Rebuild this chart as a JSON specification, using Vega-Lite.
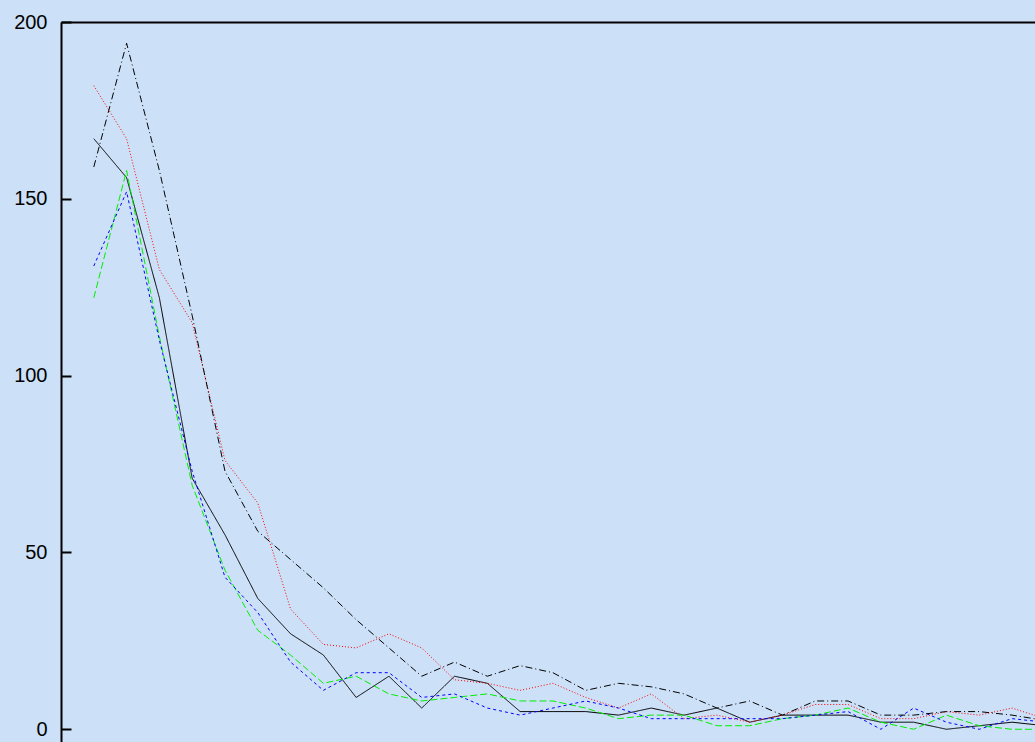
{
  "$schema": "https://vega.github.io/schema/vega-lite/v6.json",
  "autosize": "none",
  "padding": {"left": 61, "top": 22, "right": 0, "bottom": 0},
  "width": 974,
  "height": 720,
  "background": "#cce0f8",
  "config": {"view": {"stroke": null}},
  "data": {
    "values": [
      {"x": 1, "run": "run1", "v": 167}, {"x": 2, "run": "run1", "v": 156}, {"x": 3, "run": "run1", "v": 122}, {"x": 4, "run": "run1", "v": 71}, {"x": 5, "run": "run1", "v": 55},
      {"x": 6, "run": "run1", "v": 37}, {"x": 7, "run": "run1", "v": 27}, {"x": 8, "run": "run1", "v": 21}, {"x": 9, "run": "run1", "v": 9}, {"x": 10, "run": "run1", "v": 15},
      {"x": 11, "run": "run1", "v": 6}, {"x": 12, "run": "run1", "v": 15}, {"x": 13, "run": "run1", "v": 13}, {"x": 14, "run": "run1", "v": 5}, {"x": 15, "run": "run1", "v": 5},
      {"x": 16, "run": "run1", "v": 5}, {"x": 17, "run": "run1", "v": 4}, {"x": 18, "run": "run1", "v": 6}, {"x": 19, "run": "run1", "v": 4}, {"x": 20, "run": "run1", "v": 6},
      {"x": 21, "run": "run1", "v": 2}, {"x": 22, "run": "run1", "v": 4}, {"x": 23, "run": "run1", "v": 4}, {"x": 24, "run": "run1", "v": 4}, {"x": 25, "run": "run1", "v": 2},
      {"x": 26, "run": "run1", "v": 2}, {"x": 27, "run": "run1", "v": 0}, {"x": 28, "run": "run1", "v": 1}, {"x": 29, "run": "run1", "v": 2}, {"x": 30, "run": "run1", "v": 1},

      {"x": 1, "run": "run2", "v": 182}, {"x": 2, "run": "run2", "v": 167}, {"x": 3, "run": "run2", "v": 130}, {"x": 4, "run": "run2", "v": 115}, {"x": 5, "run": "run2", "v": 76},
      {"x": 6, "run": "run2", "v": 64}, {"x": 7, "run": "run2", "v": 34}, {"x": 8, "run": "run2", "v": 24}, {"x": 9, "run": "run2", "v": 23}, {"x": 10, "run": "run2", "v": 27},
      {"x": 11, "run": "run2", "v": 23}, {"x": 12, "run": "run2", "v": 14}, {"x": 13, "run": "run2", "v": 13}, {"x": 14, "run": "run2", "v": 11}, {"x": 15, "run": "run2", "v": 13},
      {"x": 16, "run": "run2", "v": 9}, {"x": 17, "run": "run2", "v": 6}, {"x": 18, "run": "run2", "v": 10}, {"x": 19, "run": "run2", "v": 3}, {"x": 20, "run": "run2", "v": 4},
      {"x": 21, "run": "run2", "v": 2}, {"x": 22, "run": "run2", "v": 4}, {"x": 23, "run": "run2", "v": 7}, {"x": 24, "run": "run2", "v": 7}, {"x": 25, "run": "run2", "v": 3},
      {"x": 26, "run": "run2", "v": 3}, {"x": 27, "run": "run2", "v": 5}, {"x": 28, "run": "run2", "v": 4}, {"x": 29, "run": "run2", "v": 6}, {"x": 30, "run": "run2", "v": 3},

      {"x": 1, "run": "run3", "v": 122}, {"x": 2, "run": "run3", "v": 158}, {"x": 3, "run": "run3", "v": 111}, {"x": 4, "run": "run3", "v": 69}, {"x": 5, "run": "run3", "v": 45},
      {"x": 6, "run": "run3", "v": 28}, {"x": 7, "run": "run3", "v": 21}, {"x": 8, "run": "run3", "v": 13}, {"x": 9, "run": "run3", "v": 15}, {"x": 10, "run": "run3", "v": 10},
      {"x": 11, "run": "run3", "v": 8}, {"x": 12, "run": "run3", "v": 9}, {"x": 13, "run": "run3", "v": 10}, {"x": 14, "run": "run3", "v": 8}, {"x": 15, "run": "run3", "v": 8},
      {"x": 16, "run": "run3", "v": 6}, {"x": 17, "run": "run3", "v": 3}, {"x": 18, "run": "run3", "v": 4}, {"x": 19, "run": "run3", "v": 4}, {"x": 20, "run": "run3", "v": 1},
      {"x": 21, "run": "run3", "v": 1}, {"x": 22, "run": "run3", "v": 3}, {"x": 23, "run": "run3", "v": 4}, {"x": 24, "run": "run3", "v": 6}, {"x": 25, "run": "run3", "v": 2},
      {"x": 26, "run": "run3", "v": 0}, {"x": 27, "run": "run3", "v": 4}, {"x": 28, "run": "run3", "v": 1}, {"x": 29, "run": "run3", "v": 0}, {"x": 30, "run": "run3", "v": 0},

      {"x": 1, "run": "run4", "v": 131}, {"x": 2, "run": "run4", "v": 152}, {"x": 3, "run": "run4", "v": 110}, {"x": 4, "run": "run4", "v": 73}, {"x": 5, "run": "run4", "v": 43},
      {"x": 6, "run": "run4", "v": 33}, {"x": 7, "run": "run4", "v": 19}, {"x": 8, "run": "run4", "v": 11}, {"x": 9, "run": "run4", "v": 16}, {"x": 10, "run": "run4", "v": 16},
      {"x": 11, "run": "run4", "v": 9}, {"x": 12, "run": "run4", "v": 10}, {"x": 13, "run": "run4", "v": 6}, {"x": 14, "run": "run4", "v": 4}, {"x": 15, "run": "run4", "v": 6},
      {"x": 16, "run": "run4", "v": 8}, {"x": 17, "run": "run4", "v": 6}, {"x": 18, "run": "run4", "v": 3}, {"x": 19, "run": "run4", "v": 3}, {"x": 20, "run": "run4", "v": 3},
      {"x": 21, "run": "run4", "v": 3}, {"x": 22, "run": "run4", "v": 3}, {"x": 23, "run": "run4", "v": 4}, {"x": 24, "run": "run4", "v": 5}, {"x": 25, "run": "run4", "v": 0},
      {"x": 26, "run": "run4", "v": 6}, {"x": 27, "run": "run4", "v": 2}, {"x": 28, "run": "run4", "v": 0}, {"x": 29, "run": "run4", "v": 3}, {"x": 30, "run": "run4", "v": 2},

      {"x": 1, "run": "run5", "v": 159}, {"x": 2, "run": "run5", "v": 194}, {"x": 3, "run": "run5", "v": 158}, {"x": 4, "run": "run5", "v": 117}, {"x": 5, "run": "run5", "v": 73},
      {"x": 6, "run": "run5", "v": 56}, {"x": 7, "run": "run5", "v": 48}, {"x": 8, "run": "run5", "v": 40}, {"x": 9, "run": "run5", "v": 31}, {"x": 10, "run": "run5", "v": 23},
      {"x": 11, "run": "run5", "v": 15}, {"x": 12, "run": "run5", "v": 19}, {"x": 13, "run": "run5", "v": 15}, {"x": 14, "run": "run5", "v": 18}, {"x": 15, "run": "run5", "v": 16},
      {"x": 16, "run": "run5", "v": 11}, {"x": 17, "run": "run5", "v": 13}, {"x": 18, "run": "run5", "v": 12}, {"x": 19, "run": "run5", "v": 10}, {"x": 20, "run": "run5", "v": 6},
      {"x": 21, "run": "run5", "v": 8}, {"x": 22, "run": "run5", "v": 4}, {"x": 23, "run": "run5", "v": 8}, {"x": 24, "run": "run5", "v": 8}, {"x": 25, "run": "run5", "v": 4},
      {"x": 26, "run": "run5", "v": 4}, {"x": 27, "run": "run5", "v": 5}, {"x": 28, "run": "run5", "v": 5}, {"x": 29, "run": "run5", "v": 4}, {"x": 30, "run": "run5", "v": 2.5}
    ]
  },
  "mark": {"type": "line", "strokeWidth": 1, "clip": true},
  "encoding": {
    "x": {
      "field": "x",
      "type": "quantitative",
      "scale": {"domain": [0, 29.7], "nice": false, "zero": false},
      "axis": {
        "orient": "top",
        "labels": false,
        "ticks": false,
        "grid": false,
        "title": null,
        "domain": true,
        "domainColor": "#000000",
        "domainWidth": 2
      }
    },
    "y": {
      "field": "v",
      "type": "quantitative",
      "scale": {"domain": [-3.6, 200], "nice": false, "zero": false},
      "axis": {
        "orient": "left",
        "values": [0, 50, 100, 150, 200],
        "grid": false,
        "title": null,
        "domainColor": "#000000",
        "domainWidth": 2,
        "tickColor": "#000000",
        "tickWidth": 2,
        "tickSize": -10,
        "labelPadding": 24,
        "labelFont": "Liberation Sans",
        "labelFontSize": 20,
        "labelColor": "#000000"
      }
    },
    "color": {
      "field": "run",
      "type": "nominal",
      "scale": {
        "domain": ["run1", "run2", "run3", "run4", "run5"],
        "range": ["#000000", "#ff0000", "#00ee00", "#0000ff", "#000000"]
      },
      "legend": null
    },
    "strokeDash": {
      "field": "run",
      "type": "nominal",
      "scale": {
        "domain": ["run1", "run2", "run3", "run4", "run5"],
        "range": [[1, 0], [1, 2], [7, 3], [3, 3], [7, 3, 1, 3]]
      },
      "legend": null
    }
  }
}
